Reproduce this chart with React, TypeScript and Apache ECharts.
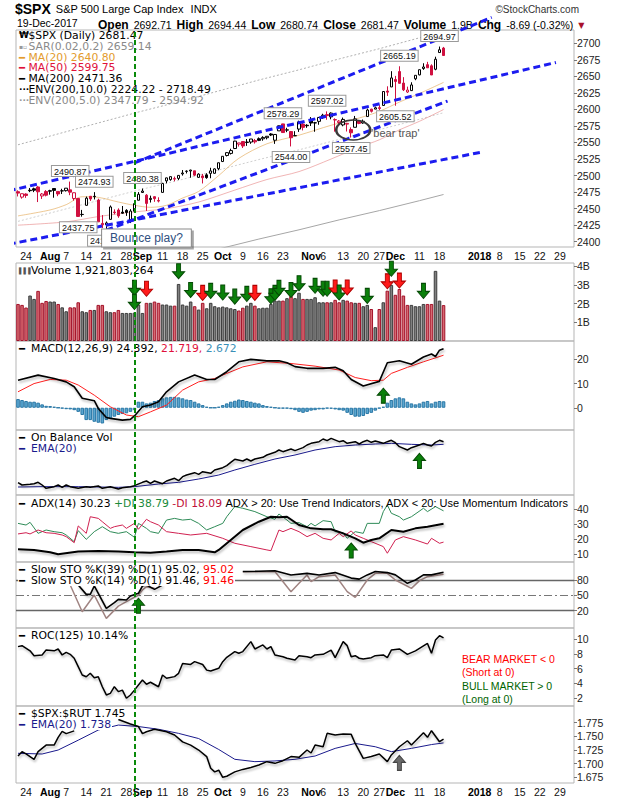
import React, { useEffect, useRef } from "react";
import * as echarts from "echarts";

// ---------------- axis structure ----------------
const HOLIDAYS = ["2017-09-04", "2017-11-23"];
const X_TICKS: [string, string, number][] = [
  ["2017-07-24", "24", 0], ["2017-08-01", "Aug", 1], ["2017-08-07", "7", 0], ["2017-08-14", "14", 0],
  ["2017-08-21", "21", 0], ["2017-08-28", "28", 0], ["2017-09-01", "Sep", 1], ["2017-09-11", "11", 0],
  ["2017-09-18", "18", 0], ["2017-09-25", "25", 0], ["2017-10-02", "Oct", 1], ["2017-10-09", "9", 0],
  ["2017-10-16", "16", 0], ["2017-10-23", "23", 0], ["2017-11-01", "Nov", 1], ["2017-11-06", "6", 0],
  ["2017-11-13", "13", 0], ["2017-11-20", "20", 0], ["2017-11-27", "27", 0], ["2017-12-01", "Dec", 1],
  ["2017-12-11", "11", 0], ["2017-12-18", "18", 0], ["2018-01-01", "2018", 1], ["2018-01-08", "8", 0],
  ["2018-01-15", "15", 0], ["2018-01-22", "22", 0], ["2018-01-29", "29", 0],
];
const PRICE_TICKS = [2400, 2425, 2450, 2475, 2500, 2525, 2550, 2575, 2600, 2625, 2650, 2675, 2700];
const VOLUME_TICKS = [1, 2, 3, 4];
const MACD_TICKS = [0, 10, 20];
const ADX_TICKS = [10, 20, 30, 40];
const STO_TICKS = [20, 50, 80];
const ROC_TICKS = [2, 4, 6, 8, 10];
const RATIO_TICKS = [1.675, 1.7, 1.725, 1.75, 1.775];

// ---------------- price data (Jul 20 2017 .. Dec 19 2017) ----------------
const PREV_CLOSE = 2473.83;
const OPEN = [
  2475.56, 2467.4, 2472.04, 2477.88, 2479.97, 2482.76, 2469.12, 2475.94,
  2477.1, 2480.38, 2476.03, 2476.88, 2477.14, 2478.35, 2465.35, 2465.38, 2441.04, 2454.96, 2468.66, 2468.63, 2462.95, 2427.64, 2425.5, 2433.75, 2444.88, 2447.91, 2444.72, 2447.35, 2431.94, 2446.06, 2462.65,
  2474.42, 2470.35, 2463.83, 2468.06, 2462.25, 2474.52, 2491.94, 2493.89, 2494.56, 2495.67, 2502.51, 2506.29, 2506.84, 2507.16, 2497.26, 2499.39, 2501.04, 2503.3, 2503.41, 2510.42,
  2521.2, 2530.34, 2533.48, 2540.86, 2547.44, 2551.39, 2549.99, 2550.62, 2552.88, 2555.66, 2555.57, 2557.17, 2562.87, 2553.39, 2567.56, 2578.08, 2568.66, 2566.52, 2560.08, 2570.26, 2577.75, 2575.99,
  2583.21, 2579.46, 2581.93, 2587.47, 2592.11, 2588.71, 2584.0, 2580.18, 2576.53, 2577.75, 2569.45, 2572.95, 2582.94, 2579.49, 2589.17, 2600.31, 2600.42, 2602.66, 2605.94, 2627.82, 2633.93,
  2645.1, 2657.19, 2639.78, 2626.24, 2628.38, 2646.21, 2652.19, 2661.73, 2667.59, 2665.87, 2660.63, 2685.92, 2692.71,
];
const HIGH = [
  2477.62, 2472.54, 2473.1, 2481.24, 2481.69, 2484.04, 2473.53, 2477.96,
  2478.51, 2480.38, 2476.03, 2480.0, 2480.95, 2490.87, 2474.41, 2465.38, 2448.09, 2468.22, 2468.9, 2474.93, 2465.02, 2440.27, 2430.58, 2454.77, 2448.91, 2450.39, 2453.96, 2449.12, 2449.19, 2460.31, 2475.01,
  2480.38, 2471.97, 2469.64, 2468.62, 2467.11, 2488.95, 2496.77, 2498.37, 2498.43, 2500.23, 2508.32, 2507.84, 2508.85, 2507.16, 2503.47, 2502.54, 2503.51, 2511.75, 2510.81, 2519.44,
  2529.23, 2535.13, 2540.53, 2552.51, 2549.41, 2551.82, 2555.23, 2555.24, 2555.33, 2557.65, 2559.47, 2559.71, 2564.11, 2562.36, 2575.44, 2578.29, 2572.18, 2567.4, 2567.07, 2582.98, 2580.03, 2577.6,
  2588.4, 2581.11, 2588.42, 2593.38, 2597.02, 2595.47, 2586.5, 2583.81, 2587.66, 2579.66, 2572.84, 2590.09, 2583.96, 2584.64, 2601.19, 2600.94, 2604.21, 2606.41, 2627.69, 2634.89, 2657.74,
  2650.62, 2665.19, 2648.72, 2634.41, 2640.99, 2651.65, 2660.33, 2669.72, 2671.88, 2668.09, 2679.63, 2694.97, 2694.44,
];
const LOW = [
  2468.43, 2465.06, 2466.32, 2474.91, 2474.94, 2459.93, 2464.66, 2468.53,
  2471.14, 2466.48, 2468.85, 2472.08, 2475.88, 2470.32, 2462.08, 2437.75, 2437.85, 2454.96, 2461.61, 2463.86, 2430.01, 2420.69, 2417.35, 2433.67, 2441.42, 2436.19, 2442.22, 2439.03, 2428.2, 2443.77, 2462.65,
  2473.85, 2446.55, 2459.2, 2460.29, 2459.4, 2474.52, 2488.26, 2492.14, 2491.35, 2493.16, 2499.92, 2503.19, 2496.67, 2499.0, 2496.54, 2488.03, 2495.12, 2495.91, 2502.93, 2507.99,
  2520.4, 2528.85, 2531.8, 2540.02, 2543.79, 2541.6, 2544.86, 2547.95, 2548.31, 2552.09, 2552.64, 2554.69, 2559.67, 2547.92, 2567.56, 2564.33, 2565.58, 2544.0, 2559.8, 2565.94, 2568.25, 2572.15,
  2574.92, 2566.17, 2576.77, 2585.66, 2584.35, 2585.02, 2566.33, 2575.57, 2574.48, 2566.56, 2557.45, 2572.95, 2577.62, 2578.24, 2589.17, 2595.23, 2600.42, 2598.87, 2605.44, 2620.32, 2633.93,
  2605.52, 2639.03, 2627.73, 2624.75, 2628.09, 2644.1, 2651.47, 2659.78, 2662.85, 2652.01, 2659.14, 2685.92, 2680.74,
];
const CLOSE = [
  2473.45, 2472.54, 2469.91, 2477.13, 2477.83, 2475.42, 2472.1, 2470.3,
  2476.35, 2477.57, 2472.16, 2476.83, 2480.91, 2474.92, 2474.02, 2438.21, 2441.32, 2465.84, 2464.61, 2468.11, 2430.01, 2425.55, 2428.37, 2452.51, 2444.04, 2438.97, 2443.05, 2444.24, 2446.3, 2457.59, 2471.65,
  2476.55, 2457.85, 2465.54, 2465.1, 2461.43, 2488.11, 2496.48, 2498.37, 2495.62, 2500.23, 2503.87, 2506.65, 2508.24, 2500.6, 2502.22, 2496.66, 2496.84, 2507.04, 2510.06, 2519.36,
  2529.12, 2534.58, 2537.74, 2552.07, 2549.33, 2544.73, 2550.64, 2555.24, 2550.93, 2553.17, 2557.64, 2559.36, 2561.26, 2562.1, 2575.21, 2564.98, 2569.13, 2557.15, 2560.4, 2581.07, 2572.83, 2575.26,
  2579.36, 2579.85, 2587.84, 2591.13, 2590.64, 2594.38, 2584.62, 2582.3, 2584.84, 2578.87, 2564.62, 2585.64, 2578.85, 2582.14, 2599.03, 2597.08, 2602.42, 2601.42, 2627.04, 2626.07, 2647.58,
  2642.22, 2639.44, 2629.57, 2629.27, 2636.98, 2651.5, 2659.99, 2664.11, 2662.85, 2652.01, 2675.81, 2690.16, 2681.47,
];
// volume in billions
const VOLUME_B = [
  1.98, 1.93, 1.79, 2.43, 2.25, 2.68, 2.04, 2.14,
  2.11, 2.11, 1.98, 1.8, 1.59, 1.8, 1.8, 2.07, 1.59, 1.54, 1.66, 1.66, 1.93, 1.93, 1.59, 1.54, 1.54, 1.66, 1.5, 1.5, 1.5, 1.52, 1.95,
  1.5, 2.04, 2.04, 2.11, 2.04, 1.95, 1.95, 1.89, 1.89, 3.05, 1.95, 1.89, 2.11, 1.86, 1.68, 2.04, 1.75, 2.04, 1.86, 1.8,
  1.84, 1.8, 1.75, 1.71, 1.63, 1.78, 1.89, 2.04, 1.89, 1.75, 1.78, 1.78, 1.98, 2.16, 2.16, 2.16, 2.29, 2.4, 2.29, 2.58, 2.25, 2.25,
  2.25, 2.34, 2.07, 2.07, 2.07, 2.07, 2.2, 2.07, 2.2, 2.16, 2.07, 2.04, 2.04, 1.86, 1.93, 1.71, 0.74, 1.71, 2.07, 2.69, 3.0,
  2.47, 2.78, 2.43, 1.93, 1.93, 1.86, 1.86, 1.98, 1.98, 1.98, 3.75, 2.16, 1.92,
];

// overlays: [day index, value]
const MA20 = [[0, 2439], [8, 2448], [12, 2456], [16, 2468], [20, 2467], [25, 2460], [29, 2455], [33, 2452], [37, 2455], [41, 2466], [45, 2476], [50, 2500], [55, 2526], [62, 2548], [70, 2561], [78, 2576], [85, 2587], [90, 2597], [95, 2611], [100, 2624], [106, 2640.8]];
const MA50 = [[0, 2425], [12, 2430], [20, 2438], [29, 2445], [37, 2450], [45, 2460], [54, 2478], [62, 2494], [70, 2506], [78, 2525], [85, 2543], [90, 2554], [95, 2569], [100, 2582], [106, 2599.75]];
const MA200 = [[0, 2315], [10, 2330], [20, 2345], [30, 2360], [40, 2374], [50, 2389], [60, 2404], [70, 2418], [80, 2433], [90, 2447], [100, 2462], [106, 2471.36]];

// hand-drawn trend lines (endpoints in [day index, price])
const TRENDLINES = [
  [[-5, 2393], [116, 2536]],
  [[22, 2417.35], [107, 2612.6]],
  [[-5, 2473], [134, 2671]],
  [[29, 2519], [118, 2739]],
];
const PRICE_NOTES: [number, number, string][] = [
  [13, 2490.87, "top"], [19, 2474.93, "top"], [15, 2437.75, "bottom"], [22, 2417.35, "bottom"],
  [31, 2480.38, "top"], [66, 2578.29, "top"], [68, 2544.0, "bottom"], [77, 2597.02, "top"],
  [83, 2557.45, "bottom"], [94, 2605.52, "bottom"], [95, 2665.19, "top"], [105, 2694.97, "top"],
];
const BEAR_TRAP_RING = [84, 2569];
const BEAR_TRAP_TEXT = [94, 2565];
const BOUNCE_NOTE = [32, 2405.6];
const SIGNAL_DAY = 29;

// arrows [day, value, colour]
const VOLUME_ARROWS: [number, number, string][] = [
  [29, 2.84, "g"], [29, 2.09, "g"], [32, 2.79, "r"], [40, 3.73, "g"], [43, 2.73, "g"], [46, 2.57, "r"],
  [48, 2.68, "g"], [51, 2.59, "g"], [54, 2.37, "g"], [57, 2.52, "g"], [59, 2.57, "r"], [63, 2.39, "g"],
  [64, 2.57, "g"], [65, 2.84, "g"], [68, 2.73, "g"], [70, 3.09, "g"], [74, 2.95, "g"], [76, 2.79, "g"],
  [77, 2.79, "g"], [79, 2.86, "r"], [80, 2.59, "g"], [82, 2.86, "r"], [87, 2.41, "g"], [92, 3.19, "r"],
  [93, 3.86, "g"], [95, 3.23, "r"], [101, 2.68, "g"], [104, 4.25, "g"],
];
const MACD_ARROW = [91, 5.0];
const OBV_ARROW = [100, 9.25];
const ADX_ARROW = [83, 12.5];
const STO_ARROW = [30, 29.8];
const RATIO_ARROW = [95, 1.7015];

// MACD(12,26,9)
const MACD_LINE = [[0, 11.4], [5, 13.5], [9, 12.1], [12, 10.7], [14, 8.7], [16, 3.9], [19, 2.9], [20, -0.3], [22, -4], [23, -4.4], [26, -5.1], [28, -4.8], [29, -3.4], [31, 0.4], [33, 1.1], [35, 2.5], [37, 6.6], [40, 10.7], [44, 13.5], [47, 11.7], [49, 11.7], [52, 14.9], [55, 19], [58, 20], [62, 19.4], [65, 19.4], [67, 18.6], [69, 17], [72, 16.3], [76, 16.3], [79, 16.7], [81, 15.3], [83, 11.7], [86, 9], [90, 10.9], [92, 18.6], [95, 19.4], [98, 18], [101, 21], [103, 22.2], [104, 21.2], [105, 23.8], [106, 24.39]];
const MACD_SIGNAL = [[0, 6.6], [4, 10], [8, 11.7], [12, 11.4], [15, 9.4], [19, 5.2], [23, 0.4], [27, -3], [30, -3.7], [33, -1.7], [37, 1.1], [41, 7.3], [45, 10.7], [49, 12.1], [52, 14.2], [56, 16.9], [62, 19], [68, 18.3], [74, 17.2], [80, 15.6], [84, 12.5], [88, 11.2], [91, 11.4], [93, 14.2], [97, 16.7], [101, 19], [106, 21.72]];
const MACD_HIST = [
  3.6, 3.2, 2.8, 2.5, 2.5, 2.1, 1.4, 0.8, 0.7, 0.4, 0,
  -0.3, -0.6, -0.7, -1, -1.7, -3, -5.1, -5.1, -5.8, -6.2, -6.5, -5.1, -4.4, -3.7, -3, -2.6, -2.3, -1.7, -1,
  2.5, 2.5, 1.8, 2.1, 2.8, 3.2, 3.9, 4.3, 4.5, 4.5, 4.3, 3.9, 3.4, 3.2, 2.5, 1.8, 1.1, 0.4,
  0, 0, 0.4, 1.1, 1.8, 2.5, 2.9, 3.4, 3.2, 2.8, 2.5, 2.1, 1.8, 1.1,
  0.7, 0.4, 0, -0.3, -0.3, -0.3, -0.6, -1, -1.7, -2.1, -1.7, -1.2, -1, -0.7, -0.7, -0.3, -0.4, -0.7, -1, -1.2, -2.1, -3, -3.7, -3.7, -3.4, -2.6, -2.1, -1.2,
  -0.3, 0.4, 2.1, 3.2, 3.9, 4.3, 3.9, 2.5, 1.8, 1.4, 1.8, 2.5, 2.8, 1.8, 2.5, 2.8, 2.672,
];
// On Balance Volume (billions, relative)
const OBV = [[0, 2.7], [1, 2.0], [3, 2.2], [4, 2.4], [5, 2.8], [6, 2.0], [7, 1.0], [9, 1.5], [10, 2.0], [11, 1.3], [12, 2.0], [13, 1.5], [15, 1.0], [17, 1.5], [18, 1.3], [20, 1.7], [21, 1.0], [23, 1.5], [25, 0.8], [26, 1.2], [28, 1.5], [29, 1.8], [31, 2.8], [32, 3.2], [33, 2.5], [34, 3.2], [36, 2.4], [37, 3.2], [39, 4.0], [40, 3.3], [41, 4.5], [42, 5.0], [44, 5.7], [45, 5.2], [46, 6.0], [48, 5.5], [49, 6.5], [51, 7.2], [52, 7.8], [53, 8.8], [54, 9.7], [56, 9.2], [57, 9.8], [58, 9.2], [59, 9.8], [61, 10.3], [62, 11.0], [64, 11.8], [65, 12.5], [66, 12.0], [68, 12.8], [69, 12.3], [71, 13.2], [72, 14.0], [73, 14.5], [75, 15.0], [76, 15.8], [77, 15.3], [78, 16.0], [80, 15.0], [81, 15.3], [82, 14.5], [84, 15.0], [85, 14.3], [86, 15.0], [87, 15.4], [88, 14.8], [89, 15.2], [91, 14.5], [92, 15.0], [93, 15.4], [94, 14.7], [95, 13.5], [97, 12.5], [98, 13.2], [100, 14.0], [101, 14.5], [102, 14.0], [103, 13.7], [104, 14.8], [105, 15.4], [106, 15.0]];
const OBV_EMA = [[0, 1.4], [6, 1.5], [15, 1.5], [25, 1.3], [29, 1.5], [35, 2.3], [40, 2.8], [45, 3.8], [50, 5.0], [54, 6.5], [59, 8.2], [64, 9.8], [69, 11.0], [74, 12.5], [79, 13.5], [84, 14.0], [89, 14.3], [93, 14.5], [98, 14.2], [103, 14.0], [106, 14.2]];
// ADX(14)
const ADX = [[0, 13.3], [4, 12.9], [8, 11.3], [10, 10], [15, 11.8], [20, 12.2], [25, 11.8], [29, 11.3], [33, 11.1], [37, 11.8], [41, 12.9], [45, 12.9], [49, 11.3], [50, 12.9], [53, 19.5], [56, 26.1], [60, 31.6], [63, 34.9], [65, 34.5], [67, 34.9], [70, 29.4], [73, 27.2], [76, 26.6], [78, 26.6], [81, 23.9], [84, 20.6], [86, 17.7], [88, 19.5], [90, 20.6], [93, 26.1], [96, 25], [99, 27.2], [102, 28.3], [106, 30.23]];
const PLUS_DI = [[0, 30.5], [2, 29.4], [3, 31.2], [5, 23.9], [7, 26.1], [9, 25], [11, 24.3], [12, 22.8], [14, 18.4], [15, 25.7], [17, 19.9], [19, 25], [21, 28.3], [23, 25], [25, 23.9], [27, 25], [29, 21.3], [30, 30.5], [32, 27.2], [33, 25], [35, 23.9], [37, 32.7], [39, 33.8], [41, 32.7], [43, 33.2], [45, 30.5], [47, 26.1], [49, 28.3], [51, 30.5], [52, 34.9], [54, 41.6], [56, 40.5], [59, 38.3], [62, 34.9], [64, 33.2], [65, 36.7], [67, 32.7], [68, 30.5], [70, 31], [72, 28.3], [73, 30.5], [74, 28.8], [76, 32.3], [78, 31.6], [79, 25], [81, 24.3], [82, 20.6], [84, 25], [86, 23.9], [87, 30.5], [90, 30.5], [91, 38.3], [92, 42.7], [93, 37.2], [95, 34.9], [96, 32.7], [98, 34.9], [101, 40.5], [102, 38.3], [104, 41.6], [106, 38.79]];
const MINUS_DI = [[0, 23.5], [2, 24.3], [3, 23.5], [5, 26.1], [7, 24.3], [9, 23.9], [11, 22.8], [12, 21.7], [14, 17.7], [15, 28.8], [17, 23.9], [18, 34.9], [20, 33.8], [21, 31.6], [23, 27.2], [24, 28.3], [26, 29.4], [27, 27.2], [29, 30.5], [30, 26.6], [32, 33.2], [33, 31.6], [35, 29.4], [37, 25], [40, 23.9], [43, 22.8], [47, 23.9], [51, 20.6], [54, 17.3], [58, 15.1], [62, 12.9], [63, 12.4], [65, 26.1], [66, 25], [68, 27.2], [70, 25], [72, 21.7], [74, 23.9], [76, 20.6], [78, 19.5], [80, 23.9], [81, 21.7], [83, 25.5], [84, 22.8], [86, 20.6], [88, 18.4], [91, 15.1], [92, 10.7], [94, 19.5], [96, 21.7], [99, 19.5], [102, 16.8], [103, 20.6], [105, 17.3], [106, 18.09]];
// Slow stochastics ('-' = hidden behind the legend)
const STO39 = [[15, 70.2], [17, 51.9], [18, 51.9], [19, 68.3], [22, 24.6], [24, 35.7], [25, 42.2], [27, 41], [28, 48.7], [30, 54], [31, 68.3], [32, 70.2], [34, 61.7], [36, 70.2], [37, "-"], [46, 89.8], [49, 88.6], [50, "-"], [56, 96.7], [60, 97], [64, 98], [68, 89.8], [72, 93], [75, 89.8], [79, 94.5], [83, 83.7], [85, 81.7], [87, 90], [89, 96.7], [92, 94.5], [94, 90], [97, 73.5], [99, 80], [101, 90], [103, 90], [106, 95.02]];
const STO14 = [[13, 70.2], [16, 18], [19, 50.6], [22, 5], [25, 29], [27, 37.6], [30, 50.6], [31, 60.4], [32, 67], [34, 63.7], [35, "-"], [47, 83], [49, 89.8], [50, "-"], [56, 96], [64, 96.5], [68, 57.2], [70, 73.5], [72, 89.8], [73, 76.7], [75, 86.5], [79, 89.8], [82, 57.2], [84, 46], [87, 80], [89, 93], [92, 93], [94, 80], [98, 63.7], [100, 78.7], [102, 86.5], [106, 91.46]];
// ROC(125)
const ROC = [[0, 8.97], [1, 9.1], [3, 8.4], [4, 7.75], [6, 7.84], [7, 8.5], [9, 8.4], [10, 8.65], [11, 7.84], [12, 8.2], [13, 7.93], [14, 7.4], [15, 6.27], [16, 5.14], [17, 4.9], [18, 5.37], [19, 4.78], [20, 4.9], [21, 3.56], [22, 2.45], [23, 2.67], [24, 3.56], [25, 2.9], [26, 3.1], [27, 2.0], [28, 2.45], [29, 3.1], [30, 3.8], [31, 4.47], [32, 3.9], [33, 4.16], [35, 3.56], [36, 5.14], [37, 4.7], [39, 4.92], [40, 5.37], [41, 6.7], [43, 6.56], [44, 6.94], [46, 6.56], [47, 5.8], [48, 5.68], [50, 6.04], [51, 6.94], [52, 7.53], [54, 8.3], [55, 8.07], [56, 8.3], [58, 9.64], [59, 8.65], [61, 9.2], [62, 8.65], [63, 8.97], [64, 7.84], [66, 7.6], [67, 7.4], [69, 7.17], [70, 7.75], [72, 7.6], [73, 7.48], [74, 7.84], [76, 7.93], [78, 8.5], [79, 7.48], [81, 9.64], [82, 9.1], [83, 7.6], [84, 7.75], [85, 7.4], [86, 7.3], [88, 7.48], [89, 7.75], [91, 7.84], [92, 7.48], [93, 8.5], [95, 8.65], [96, 8.3], [97, 7.93], [99, 8.4], [100, 8.74], [102, 9.4], [103, 8.07], [104, 9.87], [105, 10.45], [106, 10.14]];
// $SPX:$RUT
const RATIO = [[0, 1.714], [1, 1.722], [2, 1.718], [4, 1.708], [5, 1.722], [6, 1.728], [7, 1.734], [9, 1.734], [10, 1.748], [11, 1.759], [12, 1.755], [14, 1.76], [15, "-"], [25, 1.781], [28, 1.7726], [30, 1.768], [31, 1.755], [32, 1.7585], [34, 1.763], [37, 1.7585], [39, 1.7525], [41, 1.74], [43, 1.734], [45, 1.725], [47, 1.713], [48, 1.6915], [49, 1.685], [50, 1.688], [51, 1.675], [52, 1.677], [54, 1.685], [56, 1.6895], [58, 1.693], [60, 1.6975], [62, 1.7037], [64, 1.7006], [66, 1.7055], [68, 1.713], [70, 1.7116], [72, 1.725], [73, 1.7195], [74, 1.734], [76, 1.731], [77, 1.7555], [79, 1.7525], [81, 1.7543], [83, 1.7537], [84, 1.737], [86, 1.7097], [88, 1.713], [90, 1.7177], [92, 1.7037], [93, 1.716], [95, 1.731], [97, 1.742], [98, 1.734], [101, 1.7567], [102, 1.7482], [103, 1.7604], [105, 1.7402], [106, 1.745]];
const RATIO_EMA = [[0, 1.719], [6, 1.7177], [10, 1.725], [15, 1.743], [20, 1.7616], [25, 1.7707], [30, 1.768], [35, 1.763], [40, 1.7555], [45, 1.746], [50, 1.726], [54, 1.708], [59, 1.7037], [64, 1.705], [69, 1.708], [74, 1.714], [79, 1.728], [84, 1.737], [89, 1.731], [93, 1.722], [98, 1.728], [103, 1.735], [106, 1.738]];

// ---------------- styling / layout ----------------
const LGF = "DejaVu Sans";
const AXF = "Liberation Sans";
const RED = "#d01040";
const BLUE = "#1c1cf0";
const GREEN = "#0a800a";
const GRIDS = [
  { top: 30, height: 217 }, { top: 263, height: 78 }, { top: 341, height: 89 }, { top: 430, height: 65 },
  { top: 495, height: 67 }, { top: 562, height: 66 }, { top: 628, height: 78 }, { top: 706, height: 77 },
];
const Y_RANGES = [[2392, 2720], [0, 4.17], [-9.2, 27.6], [-1, 18.5], [4.9, 49.3], [-13.8, 115.2], [0.96, 11.48], [1.6646, 1.8056]];
const Y_TICKS = [PRICE_TICKS, VOLUME_TICKS, MACD_TICKS, [], ADX_TICKS, STO_TICKS, ROC_TICKS, RATIO_TICKS];
const Y_FMT = [
  (v: number) => String(v), (v: number) => v + "B", (v: number) => String(v), (v: number) => String(v),
  (v: number) => String(v), (v: number) => String(v), (v: number) => String(v), (v: number) => v.toFixed(3),
];

const DOWN_ARROW = "path://M4,0L8,0L8,8L12,8L6,15L0,8L4,8Z";
const UP_ARROW = "path://M6,0L12,7L8,7L8,15L4,15L4,7L0,7Z";
const RING = "path://M0,10A10,10 0 1,0 20,10A10,10 0 1,0 0,10Z";

function buildDates() {
  const out: string[] = [];
  const d = new Date(Date.UTC(2017, 6, 20));
  const end = Date.UTC(2018, 1, 1);
  while (d.getTime() <= end) {
    const wd = d.getUTCDay();
    const s = d.toISOString().slice(0, 10);
    if (wd !== 0 && wd !== 6 && !HOLIDAYS.includes(s)) out.push(s);
    d.setUTCDate(d.getUTCDate() + 1);
  }
  return out;
}

function arrow(idx: number, val: number, dir: "up" | "down", kind: string) {
  const fill = kind === "r" ? "#ff1a1a" : kind === "k" ? "#6a6a6a" : GREEN;
  const border = kind === "r" ? "#b00000" : kind === "k" ? "#444" : "#054a05";
  return {
    coord: [idx, val], value: val,
    symbol: dir === "down" ? DOWN_ARROW : UP_ARROW, symbolSize: [12, 15],
    itemStyle: { color: fill, borderColor: border, borderWidth: 1 }, label: { show: false },
  };
}

function lineSeries(gi: number, data: any[], color: string, width: number, extra: any = {}) {
  return {
    type: "line", xAxisIndex: gi, yAxisIndex: gi, data, symbol: "none", silent: true,
    connectNulls: false, lineStyle: { color, width }, itemStyle: { color }, z: 3, ...extra,
  };
}

const SHADOW = { shadowColor: "rgba(0,0,0,0.28)", shadowBlur: 2, shadowOffsetX: 1, shadowOffsetY: 2 };
const LH = 10.8;

function legendStyles() {
  const t = (color: string, extra: any = {}) => ({ fontFamily: LGF, fontSize: 10.8, fontWeight: "normal", color, lineHeight: LH, ...extra });
  const ic = (color: string, w: number) => ({ fontFamily: LGF, fontSize: 10, fontWeight: "bold", color, width: w, lineHeight: LH });
  return {
    k: t("#000"), g: t("#8a8a8a"), o: t("#e39b2d"), r: t("#e0103a"), rr: t("#ff0000"), b: t("#3a8fb7"),
    n: t("#1a1a8c"), gr: t("#1a8a3a"), cr: t("#c0103a"),
    a: { fontFamily: AXF, fontSize: 11, fontWeight: "normal", color: "#000", lineHeight: LH },
    ik: ic("#000", 12), in: ic("#1a1a8c", 12), io: ic("#e39b2d", 9.5), ir: ic("#e0103a", 9.5), ikk: ic("#000", 9.5),
    idk: { fontFamily: LGF, fontSize: 9, fontWeight: "bold", color: "#000", width: 9.5, lineHeight: LH },
    idg: { fontFamily: LGF, fontSize: 9, fontWeight: "bold", color: "#999", width: 9.5, lineHeight: LH },
    sq: { fontFamily: LGF, fontSize: 6, fontWeight: "normal", color: "#999", width: 9.5, lineHeight: LH },
    cd: { fontFamily: LGF, fontSize: 9, fontWeight: "bold", color: "#000", width: 9.5, lineHeight: LH },
    vb: { fontFamily: LGF, fontSize: 6, fontWeight: "normal", color: "#555", width: 12, lineHeight: LH },
  };
}

function buildOption() {
  const dates = buildDates();
  const tickMap = new Map(X_TICKS.map(([d, t, b]) => [d, { t, b }]));
  const xLabel = {
    show: true,
    interval: (_i: number, v: string) => tickMap.has(v),
    formatter: (v: string) => {
      const o = tickMap.get(v);
      if (!o) return "";
      return o.b ? `{b|${o.t}}` : `{n|${o.t}}`;
    },
    margin: 3,
    rich: {
      b: { fontFamily: AXF, fontSize: 10.5, fontWeight: "bold", color: "#000" },
      n: { fontFamily: AXF, fontSize: 10.5, color: "#111" },
    },
  };

  const grid: any[] = GRIDS.map((g) => ({
    left: 16, right: 46, top: g.top, height: g.height, show: true, borderColor: "#b5b5b5", borderWidth: 1,
  }));
  grid.push({ left: 16, right: 46, top: 30, height: 767, show: false });

  const xAxis = grid.map((_g, i) => ({
    type: "category", gridIndex: i, data: dates, boundaryGap: true, show: i !== 8,
    axisLine: { show: false }, axisTick: { show: false }, splitLine: { show: false },
    axisLabel: i === 0 || i === 7 ? xLabel : { show: false },
  }));

  const yAxis: any[] = GRIDS.map((_g, i) => ({
    type: "value", gridIndex: i, position: "right", min: Y_RANGES[i][0], max: Y_RANGES[i][1],
    show: Y_TICKS[i].length > 0,
    axisLine: { show: false }, splitLine: { show: false },
    axisTick: { show: true, customValues: Y_TICKS[i], length: 3, lineStyle: { color: "#777" } },
    axisLabel: { show: true, customValues: Y_TICKS[i], formatter: Y_FMT[i], fontFamily: AXF, fontSize: 10.5, color: "#222", margin: 3 },
  }));
  yAxis.push({ type: "value", gridIndex: 8, min: 0, max: 1, show: false });

  const series: any[] = [];

  // ---- price panel ----
  const candleData = OPEN.map((o, i) => {
    const c = CLOSE[i];
    const prev = i === 0 ? PREV_CLOSE : CLOSE[i - 1];
    const col = c >= prev ? "#000000" : RED;
    const fill = c >= o ? "#ffffff" : col;
    return { value: [o, c, LOW[i], HIGH[i]], itemStyle: { color: fill, color0: fill, borderColor: col, borderColor0: col } };
  });
  const priceMarks: any[] = PRICE_NOTES.map(([i, v, pos]) => ({ coord: [i, v], value: v, label: { position: pos } }));
  priceMarks.push({
    coord: BEAR_TRAP_RING, value: BEAR_TRAP_RING[1], symbol: RING, symbolSize: [34, 20], symbolOffset: [-2, 0],
    itemStyle: { color: "rgba(0,0,0,0)", borderColor: "#3a3a3a", borderWidth: 2 }, label: { show: false },
  });
  priceMarks.push({
    coord: BEAR_TRAP_TEXT, value: BEAR_TRAP_TEXT[1],
    label: { position: "inside", formatter: "'bear trap'", color: "#555", fontSize: 11, fontFamily: AXF, backgroundColor: "transparent", borderWidth: 0, padding: 0 },
  });
  priceMarks.push({
    coord: BOUNCE_NOTE, value: BOUNCE_NOTE[1],
    label: {
      position: "inside", formatter: "Bounce play?", color: "#2f4f80", fontSize: 12, fontFamily: AXF,
      backgroundColor: "#fff", borderColor: "#8a8a8a", borderWidth: 1, padding: [3, 8, 2, 8],
      shadowColor: "rgba(0,0,0,0.35)", shadowOffsetX: 2, shadowOffsetY: 2, shadowBlur: 1,
    },
  });

  series.push(lineSeries(0, MA200, "#a6a6a6", 1));
  series.push(lineSeries(0, MA200.map(([i, v]) => [i, +(v * 1.1).toFixed(2)]), "#b0b0b0", 1, { lineStyle: { color: "#b0b0b0", width: 1, type: [2, 2] } }));
  series.push(lineSeries(0, MA200.map(([i, v]) => [i, +(v * 1.05).toFixed(2)]), "#cfcfcf", 1, { lineStyle: { color: "#cfcfcf", width: 1, type: [2, 2] } }));
  series.push(lineSeries(0, MA50, "rgba(228,120,120,0.55)", 1, { smooth: 0.3 }));
  series.push(lineSeries(0, MA20, "rgba(228,170,90,0.65)", 1, { smooth: 0.3 }));
  series.push({
    type: "candlestick", xAxisIndex: 0, yAxisIndex: 0, data: candleData, barWidth: 3, z: 4, silent: true,
    itemStyle: { borderWidth: 1 },
    markPoint: {
      silent: true, z: 8, symbol: "rect", symbolSize: 1, itemStyle: { color: "rgba(0,0,0,0)" },
      label: {
        show: true, formatter: (p: any) => Number(p.value).toFixed(2), distance: 5,
        backgroundColor: "#fff", borderColor: "#9a9a9a", borderWidth: 1, padding: [1, 2, 0, 2],
        fontFamily: AXF, fontSize: 9, color: "#111",
      },
      data: priceMarks,
    },
  });
  TRENDLINES.forEach((pts) => {
    series.push({
      type: "line", xAxisIndex: 0, yAxisIndex: 0, data: pts, symbol: "none", clip: false, silent: true, z: 6,
      lineStyle: { color: BLUE, width: 3, type: [7, 4] },
    });
  });

  // ---- volume ----
  series.push({
    type: "bar", xAxisIndex: 1, yAxisIndex: 1, barWidth: "88%", silent: true,
    data: VOLUME_B.map((v, i) => {
      const prev = i === 0 ? PREV_CLOSE : CLOSE[i - 1];
      const down = CLOSE[i] < prev;
      return { value: v, itemStyle: down ? { color: "#d66a72", borderColor: "#a3122a", borderWidth: 1 } : { color: "#808080", borderColor: "#3d3d3d", borderWidth: 1 } };
    }),
    markPoint: { silent: true, z: 8, label: { show: false }, data: VOLUME_ARROWS.map(([i, v, k]) => arrow(i, v, "down", k)) },
  });

  // ---- MACD ----
  series.push({
    type: "bar", xAxisIndex: 2, yAxisIndex: 2, barWidth: "90%", silent: true, data: MACD_HIST,
    itemStyle: { color: "#5aa6d0", borderColor: "#2b78a6", borderWidth: 1 },
  });
  series.push(lineSeries(2, MACD_SIGNAL, "#ff2020", 1));
  series.push(lineSeries(2, MACD_LINE, "#000", 1.6, {
    lineStyle: { color: "#000", width: 1.6, ...SHADOW },
    markPoint: { silent: true, z: 8, label: { show: false }, data: [arrow(MACD_ARROW[0], MACD_ARROW[1], "up", "g")] },
  }));

  // ---- OBV ----
  series.push(lineSeries(3, OBV_EMA, "#1a1a8c", 1));
  series.push(lineSeries(3, OBV, "#000", 1.5, {
    lineStyle: { color: "#000", width: 1.5, ...SHADOW },
    markPoint: { silent: true, z: 8, label: { show: false }, data: [arrow(OBV_ARROW[0], OBV_ARROW[1], "up", "g")] },
  }));

  // ---- ADX ----
  series.push(lineSeries(4, PLUS_DI, "#2e8b57", 1));
  series.push(lineSeries(4, MINUS_DI, "#d02050", 1));
  series.push(lineSeries(4, ADX, "#000", 2, {
    lineStyle: { color: "#000", width: 2, ...SHADOW },
    markPoint: { silent: true, z: 8, label: { show: false }, data: [arrow(ADX_ARROW[0], ADX_ARROW[1], "up", "g")] },
  }));

  // ---- Slow STO ----
  series.push(lineSeries(5, STO14, "#a08482", 1.5, {
    markLine: {
      silent: true, symbol: ["none", "none"], label: { show: false }, z: 2,
      data: [
        { yAxis: 80, lineStyle: { color: "#666", width: 1.4, type: "solid" } },
        { yAxis: 50, lineStyle: { color: "#777", width: 1.2, type: [8, 3, 2, 3] } },
        { yAxis: 20, lineStyle: { color: "#666", width: 1.4, type: "solid" } },
      ],
    },
  }));
  series.push(lineSeries(5, STO39, "#000", 1.6, {
    lineStyle: { color: "#000", width: 1.6, ...SHADOW },
    markPoint: { silent: true, z: 8, label: { show: false }, data: [arrow(STO_ARROW[0], STO_ARROW[1], "up", "g")] },
  }));

  // ---- ROC ----
  series.push(lineSeries(6, ROC, "#000", 1.5, { lineStyle: { color: "#000", width: 1.5, ...SHADOW } }));

  // ---- SPX:RUT ----
  series.push(lineSeries(7, RATIO_EMA, "#1a1a8c", 1));
  series.push(lineSeries(7, RATIO, "#000", 1.5, {
    lineStyle: { color: "#000", width: 1.5, ...SHADOW },
    markPoint: { silent: true, z: 8, label: { show: false }, data: [arrow(RATIO_ARROW[0], RATIO_ARROW[1], "up", "k")] },
  }));

  // ---- signal day vertical line across all panels ----
  series.push({
    type: "line", xAxisIndex: 8, yAxisIndex: 8, data: [[SIGNAL_DAY, 0.5]], symbol: "none", silent: true,
    lineStyle: { opacity: 0 }, z: 20,
    markLine: {
      silent: true, z: 20, symbol: ["none", "none"], label: { show: false },
      lineStyle: { color: "#0a8a0a", width: 2, type: [5, 3] },
      data: [{ xAxis: SIGNAL_DAY }],
    },
  });

  const rich = legendStyles();
  const title: any[] = [
    {
      left: 15, top: 0, padding: 0,
      text: "{a|$SPX} {b|S&P 500 Large Cap Index} {c|INDX}",
      textStyle: {
        fontWeight: "normal",
        rich: {
          a: { fontFamily: AXF, fontSize: 14, fontWeight: "bold", color: "#000", lineHeight: 16 },
          b: { fontFamily: AXF, fontSize: 11, fontWeight: "normal", color: "#000", lineHeight: 16 },
          c: { fontFamily: AXF, fontSize: 11, fontWeight: "normal", color: "#000", lineHeight: 16, padding: [0, 0, 0, 2] },
        },
      },
    },
    {
      right: 41, top: 3, padding: 0, text: "©StockCharts.com",
      textStyle: { fontFamily: AXF, fontSize: 10, color: "#333", fontWeight: "normal", lineHeight: 12 },
    },
    {
      left: 17, top: 16.5, padding: 0, text: "19-Dec-2017",
      textStyle: { fontFamily: AXF, fontSize: 10.5, color: "#000", fontWeight: "normal", lineHeight: 12 },
    },
    {
      left: 98, top: 16, padding: 0,
      text: "{k|Open} {v|2692.71} {k|High} {v|2694.44} {k|Low} {v|2680.74} {k|Close} {v|2681.47} {k|Volume} {v|1.9B} {k|Chg} {v|-8.69 (-0.32%)} {t|▼}",
      textStyle: {
        fontWeight: "normal",
        rich: {
          k: { fontFamily: AXF, fontSize: 12, fontWeight: "bold", color: "#000", lineHeight: 13 },
          v: { fontFamily: AXF, fontSize: 10.5, fontWeight: "normal", color: "#000", lineHeight: 13 },
          t: { fontFamily: LGF, fontSize: 8, fontWeight: "normal", color: "#a8102c", lineHeight: 13 },
        },
      },
    },
    {
      left: 19, top: 30, padding: 0,
      text: [
        "{cd|₩}{k|$SPX (Daily) 2681.47}",
        "{sq|▪▫}{g|SAR(0.02,0.2) 2659.14}",
        "{io|━}{o|MA(20) 2640.80}",
        "{ir|━}{r|MA(50) 2599.75}",
        "{ikk|━}{k|MA(200) 2471.36}",
        "{idk|···}{k|ENV(200,10.0) 2224.22 - 2718.49}",
        "{idg|···}{g|ENV(200,5.0) 2347.79 - 2594.92}",
      ].join("\n"),
      textStyle: { fontWeight: "normal", rich, lineHeight: 11.1 },
    },
    { left: 19, top: 265.5, padding: 0, text: "{vb|▌▌▌}{k|Volume 1,921,803,264}", textStyle: { fontWeight: "normal", rich } },
    { left: 19, top: 343, padding: 0, text: "{ik|━}{k|MACD(12,26,9) 24.392, }{r|21.719, }{b|2.672}", textStyle: { fontWeight: "normal", rich } },
    { left: 19, top: 432.3, padding: 0, text: "{ik|━}{k|On Balance Vol}\n{in|━}{n|EMA(20)}", textStyle: { fontWeight: "normal", rich, lineHeight: LH } },
    {
      left: 19, top: 498, padding: 0,
      text: "{ik|━}{k|ADX(14) 30.23 }{gr|+DI 38.79 }{cr|-DI 18.09 }{a|ADX > 20: Use Trend Indicators, ADX < 20: Use Momentum Indicators}",
      textStyle: { fontWeight: "normal", rich },
    },
    { left: 18, top: 564, padding: [0, 1], backgroundColor: "#fff", text: "{ik|━}{k|Slow STO %K(39) %D(1) 95.02, }{rr|95.02}", textStyle: { fontWeight: "normal", rich } },
    { left: 18, top: 575, padding: [0, 1], backgroundColor: "#fff", text: "{ik|━}{k|Slow STO %K(14) %D(1) 91.46, }{rr|91.46}", textStyle: { fontWeight: "normal", rich } },
    { left: 19, top: 630.5, padding: 0, text: "{ik|━}{k|ROC(125) 10.14%}", textStyle: { fontWeight: "normal", rich } },
    { left: 18, top: 708, padding: [0, 1], backgroundColor: "#fff", text: "{ik|━}{k|$SPX:$RUT 1.745}", textStyle: { fontWeight: "normal", rich } },
    { left: 18, top: 719, padding: [0, 1], backgroundColor: "#fff", text: "{in|━}{n|EMA(20) 1.738}", textStyle: { fontWeight: "normal", rich } },
    {
      left: 462, top: 652.5, padding: 0,
      text: "{r|BEAR MARKET < 0}\n{r|(Short at 0)}\n{g|BULL MARKET > 0}\n{g|(Long at 0)}",
      textStyle: {
        fontWeight: "normal", lineHeight: 13.2,
        rich: {
          r: { fontFamily: AXF, fontSize: 10.5, fontWeight: "normal", color: "#ff0000", lineHeight: 13.2 },
          g: { fontFamily: AXF, fontSize: 10.5, fontWeight: "normal", color: "#006400", lineHeight: 13.2 },
        },
      },
    },
  ];

  return { animation: false, backgroundColor: "#ffffff", title, grid, xAxis, yAxis, series };
}

export default function App() {
  const ref = useRef<HTMLDivElement>(null);
  useEffect(() => {
    document.body.style.margin = "0";
    const chart = echarts.init(ref.current as HTMLDivElement, null, { renderer: "svg" });
    chart.setOption(buildOption() as any);
    return () => chart.dispose();
  }, []);
  return <div ref={ref} style={{ width: 620, height: 800 }} />;
}
